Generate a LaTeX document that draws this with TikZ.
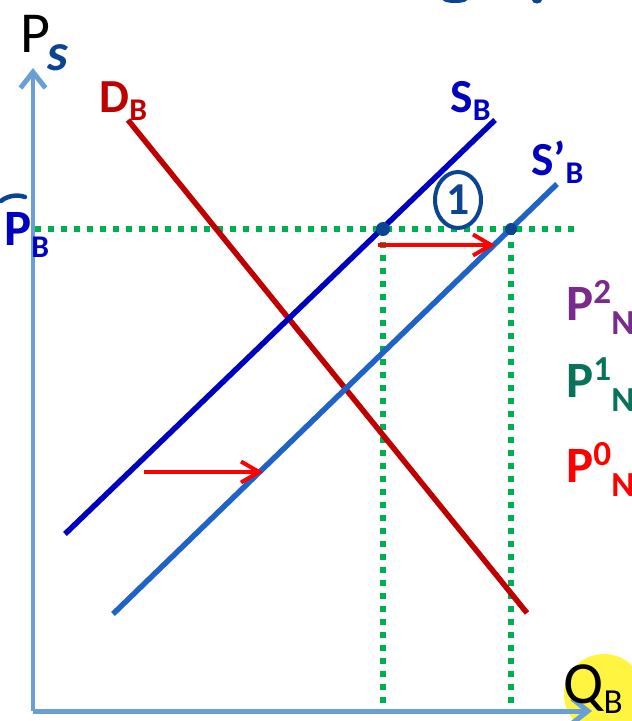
\documentclass[tikz,border=0pt]{standalone}
\usepackage{fontspec}
\setmainfont{Carlito}
\usepackage{xcolor}
\usetikzlibrary{arrows.meta,positioning,shapes.geometric}
\definecolor{axisblue}{HTML}{6A9FD6}
\definecolor{demred}{HTML}{C00000}
\definecolor{supblue}{HTML}{0000C0}
\definecolor{newblue}{HTML}{1F63C9}
\definecolor{dotgreen}{HTML}{00B050}
\definecolor{inkblue}{HTML}{0B4492}
\definecolor{purpink}{HTML}{7A2A8C}
\definecolor{greenink}{HTML}{08735A}
\newcommand{\lowsub}[1]{\raisebox{-5pt}{\fontsize{18}{18}\selectfont #1}}
\newcommand{\idxsub}[1]{\raisebox{-8pt}{\fontsize{20}{20}\selectfont #1}}
\newcommand{\highsup}[1]{\raisebox{9.5pt}{\fontsize{20}{20}\selectfont #1}}

\begin{document}
\begin{tikzpicture}[
  x=0.02cm,y=-0.02cm,
  axis/.style={line width=0.1cm,draw=axisblue,-{Straight Barb[length=0.32cm,width=0.5cm]}},
  curve/.style={line width=0.11cm,line cap=butt},
  guide/.style={draw=dotgreen,line width=0.11cm,dash pattern=on 0.12cm off 0.14cm},
  shiftarr/.style={-{Straight Barb[length=0.36cm,width=0.42cm]},line width=0.08cm,draw=red},
  lbl/.style={inner sep=0,anchor=base west,font=\fontsize{27}{27}\selectfont\bfseries},
  idx/.style={inner sep=0,anchor=base west,font=\fontsize{29}{29}\selectfont\bfseries}
]
\useasboundingbox (0,0) rectangle (632,721);

% Highlight behind the quantity label
\fill[yellow!75] (604,694) ellipse [x radius=0.8cm,y radius=0.8cm];

% Axes
\coordinate (O)    at (33,711);
\coordinate (ytop) at (33,68);
\coordinate (xend) at (592,711);
\draw[axis] (O) -- (ytop);
\draw[axis] (O) -- (xend);

% Guide lines
\coordinate (pl)  at (35,229);
\coordinate (pr)  at (578,229);
\coordinate (dotA) at (383,229);
\coordinate (dotB) at (511,229);
\coordinate (qA)  at (383,706);
\coordinate (qB)  at (511,706);
\draw[guide] (pl) -- (pr);
\draw[guide] (dotA) -- (qA);
\draw[guide] (dotB) -- (qB);

% Demand and supply
\coordinate (db0) at (128,120);
\coordinate (db1) at (527,613);
\coordinate (sb0) at (65,534);
\coordinate (sb1) at (495,120);
\coordinate (sn0) at (113,614);
\coordinate (sn1) at (557,184);
\draw[curve,draw=demred]  (db0) -- (db1);
\draw[curve,draw=supblue] (sb0) -- (sb1);
\draw[curve,draw=newblue] (sn0) -- (sn1);

% Shift arrows
\coordinate (a0) at (144,472);
\coordinate (a1) at (263,472);
\coordinate (b0) at (378,245);
\coordinate (b1) at (495,245);
\draw[shiftarr] (a0) -- (a1);
\draw[shiftarr] (b0) -- (b1);

% Points
\fill[inkblue] (dotA) circle (0.14cm);
\fill[inkblue] (dotB) circle (0.12cm);

% Labels
\node[lbl,text=demred]  (dlab)  at (99,112)  {D\lowsub{B}};
\node[lbl,text=supblue] (slab)  at (450,112) {S\lowsub{B}};
\node[lbl,text=supblue] (snlab) at (531,175) {S’\lowsub{B}};
\node[lbl,text=supblue,font=\fontsize{29}{29}\selectfont\bfseries] (pblab) at (4,245) {P\raisebox{-7pt}{\fontsize{18}{18}\selectfont B}};
\draw[inkblue,line width=0.09cm,line cap=round] (1,201) .. controls (7,196) and (17,194) .. (25,197);
\node[inner sep=0,anchor=base west,font=\fontsize{33}{33}\selectfont] (plab) at (20,52) {P};
\node[inner sep=0,text=inkblue,font=\fontsize{30}{30}\selectfont\bfseries\itshape] (slash) at (58,58) {s};
\node[inner sep=0,anchor=base west,font=\fontsize{34}{34}\selectfont] (qlab) at (563,703) {Q\raisebox{-6pt}{\fontsize{20}{20}\selectfont B}};
\node[draw=inkblue,line width=0.08cm,ellipse,minimum width=0.92cm,minimum height=1.12cm,inner sep=0,text=inkblue,font=\fontsize{26}{26}\selectfont\bfseries] (one) at (458,200) {1};

% Prices of the other good
\node[idx,text=purpink]  (p2) at (566,320) {P\highsup{2}\idxsub{N}};
\node[idx,text=greenink] (p1) at (566,397) {P\highsup{1}\idxsub{N}};
\node[idx,text=red]      (p0) at (566,482) {P\highsup{0}\idxsub{N}};

% Ink marks at the top edge
\fill[inkblue] (455,0) ellipse [x radius=0.24cm,y radius=0.06cm];
\fill[inkblue] (537,0) ellipse [x radius=0.1cm,y radius=0.07cm];
\end{tikzpicture}
\end{document}
